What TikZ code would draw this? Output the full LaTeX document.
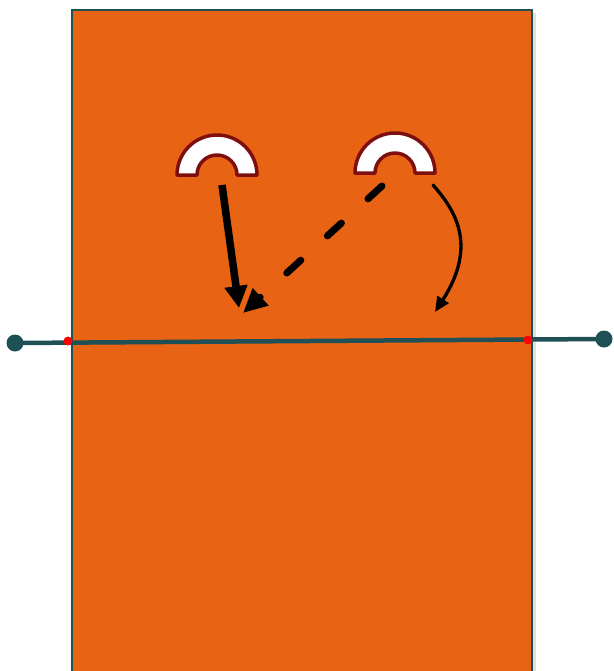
\documentclass[tikz,border=0pt]{standalone}
\usetikzlibrary{arrows.meta}
\definecolor{court}{RGB}{232,99,20}
\definecolor{teal}{RGB}{31,80,86}
\definecolor{archred}{RGB}{125,15,15}
\tikzset{
  arch/.style={fill=white,draw=archred,line width=3.5pt,line join=round},
  netline/.style={draw=teal,line width=4.5pt},
  post/.style={circle,fill=teal,inner sep=0pt,minimum size=17pt},
  mark dot/.style={circle,fill=red,inner sep=0pt,minimum size=9pt},
}
\begin{document}
\begin{tikzpicture}[x=1pt,y=-1pt]
\useasboundingbox (0,0) rectangle (613,671);
% shadow
\fill[black!12] (75,13) rectangle (536,671);
% court
\fill[court] (72,10) rectangle (532,671);
\draw[teal,line width=1.5pt] (72,671) -- (72,10) -- (532,10) -- (532,671);
% arches
\draw[arch] (177,175) arc[start angle=180,end angle=360,radius=40] -- (237,175) arc[start angle=360,end angle=180,radius=20] -- cycle;
\draw[arch] (355,173) arc[start angle=180,end angle=360,radius=40] -- (415,173) arc[start angle=360,end angle=180,radius=20] -- cycle;
% net line
\node[post] (pl) at (15,343) {};
\node[post] (pr) at (604,339) {};
\draw[netline] (pl.center) -- (pr.center);
\node[mark dot] (ml) at (68,341) {};
\node[mark dot] (mr) at (528,340) {};
% arrows
\coordinate (a1s) at (222,185);
\coordinate (a1e) at (239,308);
\coordinate (a2s) at (382,186);
\coordinate (a2e) at (243,313);
\coordinate (a3s) at (433,185);
\coordinate (a3e) at (435,312);
\draw[line width=7.5pt,-{Triangle[length=22pt,width=22pt]}] (a1s) -- (a1e);
\draw[line width=7pt,line cap=round,dash pattern=on 19pt off 36pt,-{Triangle[length=24pt,width=22pt]}] (a2s) -- (a2e);
\draw[line width=3.3pt,line cap=round,-{Triangle[length=15pt,width=13pt]}] (a3s) .. controls (455,210) and (478,245) .. (a3e);
\end{tikzpicture}
\end{document}
